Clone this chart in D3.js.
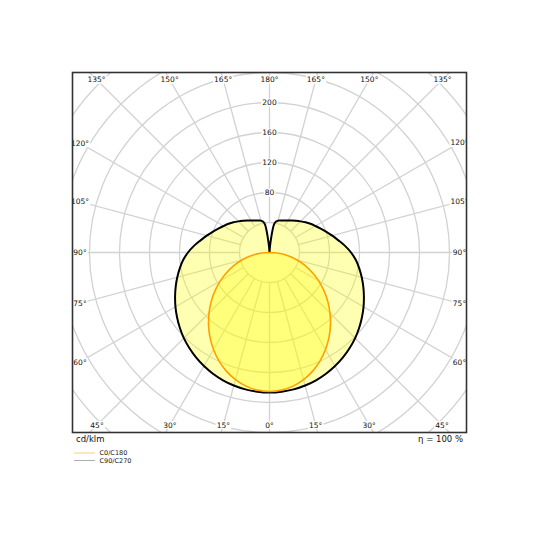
<!DOCTYPE html>
<html>
<head>
<meta charset="utf-8">
<script src="https://cdn.jsdelivr.net/npm/d3@7"></script>
<style>
  body { margin: 0; background: #fff; }
  text { font-family: "DejaVu Sans", sans-serif; fill: #111; }
</style>
</head>
<body>
<div id="chart"></div>
<script>

// gamma angles (deg, 0 = straight down) for both C-planes
var gammaAngles = [0, 5, 10, 15, 20, 25, 30, 35, 40, 45, 50, 55, 60, 65, 70, 75, 80, 85, 90,
    95, 100, 105, 110, 115, 120, 125, 130, 135, 140, 145, 150, 155, 160, 165, 170, 175, 180];

// C0/C180 intensity, cd/klm
var c0c180Values = [185.3, 184.2, 180.9, 175.5, 168.3, 159.5, 149.4, 138.3, 126.4, 114.0, 101.4, 88.6, 75.7,
    62.9, 50.2, 37.5, 25.0, 12.5, 0,
    0, 0, 0, 0, 0, 0, 0, 0, 0, 0, 0, 0, 0, 0, 0, 0, 0, 0];

// C90/C270 intensity, cd/klm
var c90c270Values = [186.7, 186.3, 185.3, 183.6, 181.3, 178.3, 174.8, 170.8, 166.3, 161.5, 156.1, 150.5, 144.8,
    138.9, 133.1, 127.3, 121.5, 115.6, 108.7,
    101.1, 93.3, 86.7, 80.7, 75.3, 70.7, 66.7, 62.7, 58.7, 55.1, 52, 49.3, 47.1, 45.3, 44, 40, 10.7, 0];

var ringValues = [40, 80, 120, 160, 200, 240, 280, 320, 360];
var ringLabels = [80, 120, 160, 200];
var angleTicks = [0, 15, 30, 45, 60, 75, 90, 105, 120, 135, 150, 165, 180];

var unitLabel = "cd/klm";
var efficiencyLabel = "η = 100 %";
var legendNames = ["C0/C180", "C90/C270"];


/*
 *  Drawing area
 */

var width = 540, height = 540;
var frame = { left: 72.5, top: 72.5, right: 466.5, bottom: 432.5 };
var cx = 269.5, cy = 252.5;

var svg = d3.select("#chart").append("svg")
    .attr("width", width)
    .attr("height", height);

svg.append("defs").append("clipPath")
    .attr("id", "frame-clip")
    .append("rect")
    .attr("x", frame.left)
    .attr("y", frame.top)
    .attr("width", frame.right - frame.left)
    .attr("height", frame.bottom - frame.top);

var plot = svg.append("g")
    .attr("clip-path", "url(#frame-clip)");

var g = plot.append("g")
    .attr("transform", "translate(" + cx + "," + cy + ")");

// radial scale
var r = d3.scaleLinear()
    .domain([0, 240])
    .range([0, 180]);

var toRad = function(deg) { return deg * Math.PI / 180; };


/*
 *  Grid
 */

g.selectAll("circle.ring")
    .data(ringValues)
    .enter()
    .append("circle")
    .attr("class", "ring")
    .attr("r", function(d) { return r(d); })
    .attr("fill", "none")
    .attr("stroke", "#d2d2d2")
    .attr("stroke-width", 1.3);

// spokes every 15 deg, both halves
var spokes = [];
angleTicks.forEach(function(a) {
    spokes.push(a);
    if (a > 0 && a < 180) spokes.push(-a);
});

g.selectAll("line.spoke")
    .data(spokes)
    .enter()
    .append("line")
    .attr("class", "spoke")
    .attr("x1", function(d) { return r(40) * Math.sin(toRad(d)); })
    .attr("y1", function(d) { return r(40) * Math.cos(toRad(d)); })
    .attr("x2", function(d) { return r(400) * Math.sin(toRad(d)); })
    .attr("y2", function(d) { return r(400) * Math.cos(toRad(d)); })
    .attr("stroke", "#d2d2d2")
    .attr("stroke-width", 1.3);


/*
 *  Curves
 */

var radial = d3.lineRadial()
    .angle(function(d) { return d.angle; })
    .radius(function(d) { return r(d.value); })
    .curve(d3.curveCatmullRom);

function planePoints(values, maxGamma) {
    var pts = [];
    // left half, from top down
    for (var i = gammaAngles.length - 1; i > 0; i--) {
        if (gammaAngles[i] > maxGamma) continue;
        pts.push({ angle: Math.PI + toRad(gammaAngles[i]), value: values[i] });
    }
    // right half, from bottom up
    for (var j = 0; j < gammaAngles.length; j++) {
        if (gammaAngles[j] > maxGamma) continue;
        pts.push({ angle: Math.PI - toRad(gammaAngles[j]), value: values[j] });
    }
    return pts;
}

var c90Pts = planePoints(c90c270Values, 180);
var c0Pts = planePoints(c0c180Values, 90);

g.append("path")
    .attr("d", radial(c90Pts) + "Z")
    .attr("fill", "yellow")
    .attr("fill-opacity", 0.3)
    .attr("stroke", "none");

g.append("path")
    .attr("d", radial(c0Pts) + "Z")
    .attr("fill", "yellow")
    .attr("fill-opacity", 0.3)
    .attr("stroke", "none");

g.append("path")
    .attr("d", radial(c90Pts))
    .attr("fill", "none")
    .attr("stroke", "#000")
    .attr("stroke-width", 2)
    .attr("stroke-linejoin", "round");

g.append("path")
    .attr("d", radial(c0Pts))
    .attr("fill", "none")
    .attr("stroke", "#ffa000")
    .attr("stroke-width", 1.6);


/*
 *  Labels with white boxes
 */

function boxedLabel(parent, x, y, txt) {
    var lg = parent.append("g");
    var t = lg.append("text")
        .attr("x", x)
        .attr("y", y)
        .attr("dy", "0.35em")
        .attr("text-anchor", "middle")
        .style("font-size", "7.5px")
        .text(txt);
    var bb = t.node().getBBox();
    lg.insert("rect", "text")
        .attr("x", bb.x - 1)
        .attr("y", bb.y + 0.5)
        .attr("width", bb.width + 2)
        .attr("height", bb.height - 1)
        .attr("fill", "#fff");
}

ringLabels.forEach(function(v) {
    boxedLabel(g, 0, -r(v), v);
});

// angle labels where each spoke meets the inset frame
var inset = { left: frame.left + 7.5, right: frame.right - 7, top: frame.top + 7, bottom: frame.bottom - 7.5 };

spokes.forEach(function(a) {
    var dx = Math.sin(toRad(a)), dy = Math.cos(toRad(a));
    var ts = [];
    if (dx > 1e-6) ts.push((inset.right - cx) / dx);
    if (dx < -1e-6) ts.push((inset.left - cx) / dx);
    if (dy > 1e-6) ts.push((inset.bottom - cy) / dy);
    if (dy < -1e-6) ts.push((inset.top - cy) / dy);
    var t = d3.min(ts);
    boxedLabel(plot, cx + t * dx, cy + t * dy, Math.abs(a) + "°");
});


/*
 *  Frame, footer and legend
 */

svg.append("rect")
    .attr("x", frame.left)
    .attr("y", frame.top)
    .attr("width", frame.right - frame.left)
    .attr("height", frame.bottom - frame.top)
    .attr("fill", "none")
    .attr("stroke", "#333")
    .attr("stroke-width", 1.6);

svg.append("text")
    .attr("x", 76)
    .attr("y", 442)
    .style("font-size", "8.5px")
    .text(unitLabel);

svg.append("text")
    .attr("x", 463)
    .attr("y", 442)
    .attr("text-anchor", "end")
    .style("font-size", "8.5px")
    .text(efficiencyLabel);

var legendColors = ["#ffc060", "#999"];

var legend = svg.selectAll("g.legend")
    .data(legendNames)
    .enter()
    .append("g")
    .attr("class", "legend")
    .attr("transform", function(d, i) { return "translate(74," + (453 + i * 7.5) + ")"; });

legend.append("line")
    .attr("x1", 0)
    .attr("x2", 21)
    .attr("stroke", function(d, i) { return legendColors[i]; })
    .attr("stroke-width", 0.8);

legend.append("text")
    .attr("x", 25.5)
    .attr("dy", "0.35em")
    .style("font-size", "6.5px")
    .style("fill", "#222")
    .text(function(d) { return d; });

</script>
</body>
</html>
